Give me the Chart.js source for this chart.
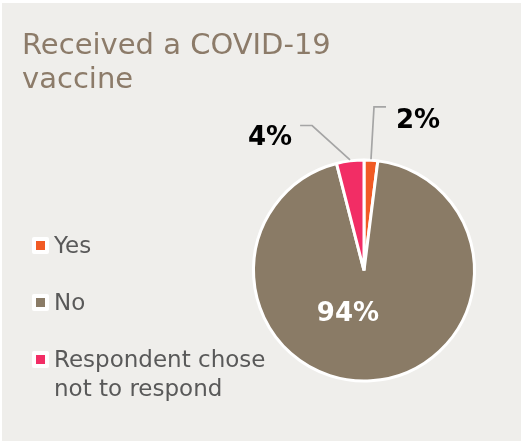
<!DOCTYPE html>
<html>
<head>
<meta charset="utf-8">
<script src="https://cdn.jsdelivr.net/npm/chart.js@4/dist/chart.umd.min.js"></script>
<style>
  html, body { margin: 0; padding: 0; background: #ffffff; }
  #wrap { position: relative; width: 529px; height: 443px; }
</style>
</head>
<body>
<div id="wrap"><canvas id="vaccineChart" width="529" height="443"></canvas></div>
<script>
// survey answers
const categories = ['Yes', 'No', 'Respondent chose not to respond'];
const shares = [2, 94, 4];
const sliceColors = ['#f15a24', '#8a7b66', '#f22d65'];
const titleLines = ['Received a COVID-19', 'vaccine'];

const FONT = "'DejaVu Sans', Verdana, sans-serif";

// where each percentage goes: leader elbow (polar from centre) or inside the slice
const labelSpots = [
    { side: 'out', angle: -86.5, dist: 164, arm: 12, dx: 10, dy: 14 },
    { side: 'in', angle: 110, dist: 47 },
    { side: 'out', angle: -109.7, dist: 154, arm: -12, dx: -8, dy: 13 }
];

const rad = (deg) => deg * Math.PI / 180;

// panel, title and the left-hand legend
const panelPlugin = {
    id: 'panel',
    beforeDraw(chart) {
        const ctx = chart.ctx;
        ctx.save();
        ctx.fillStyle = '#efeeeb';
        ctx.fillRect(2, 3, 519, 438);

        ctx.fillStyle = '#8c7b69';
        ctx.font = '29px ' + FONT;
        ctx.textBaseline = 'alphabetic';
        titleLines.forEach((line, i) => ctx.fillText(line, 22, 54 + i * 34));

        const colors = chart.data.datasets[0].backgroundColor;
        ctx.font = '23px ' + FONT;
        chart.data.labels.forEach((label, i) => {
            const cy = 245 + i * 57;
            // white swatch frame with the slice colour inside
            ctx.fillStyle = '#ffffff';
            ctx.beginPath();
            ctx.roundRect(32, cy - 8, 17, 17, 2);
            ctx.fill();
            ctx.fillStyle = colors[i];
            ctx.fillRect(36, cy - 4, 9, 9);

            // wrap long labels
            const words = label.split(' ');
            const lines = [];
            let cur = '';
            words.forEach(w => {
                const test = cur ? cur + ' ' + w : w;
                if (cur && ctx.measureText(test).width > 225) {
                    lines.push(cur);
                    cur = w;
                } else {
                    cur = test;
                }
            });
            lines.push(cur);
            ctx.fillStyle = '#595959';
            lines.forEach((ln, j) => ctx.fillText(ln, 54, cy + 8 + j * 29));
        });
        ctx.restore();
    }
};

// percentage labels with leader lines
const sliceLabelPlugin = {
    id: 'sliceLabels',
    afterDatasetsDraw(chart) {
        const ctx = chart.ctx;
        const meta = chart.getDatasetMeta(0);
        const values = chart.data.datasets[0].data;
        ctx.save();
        ctx.font = 'bold 26px ' + FONT;
        ctx.textBaseline = 'middle';
        meta.data.forEach((arc, i) => {
            const p = arc.getProps(['x', 'y', 'startAngle', 'endAngle', 'outerRadius'], true);
            const spot = labelSpots[i];
            const text = values[i] + '%';
            if (spot.side === 'in') {
                ctx.fillStyle = '#ffffff';
                ctx.textAlign = 'center';
                ctx.fillText(text, p.x + spot.dist * Math.cos(rad(spot.angle)),
                    p.y + spot.dist * Math.sin(rad(spot.angle)));
                return;
            }
            const mid = (p.startAngle + p.endAngle) / 2;
            const sx = p.x + (p.outerRadius + 1) * Math.cos(mid);
            const sy = p.y + (p.outerRadius + 1) * Math.sin(mid);
            const ex = p.x + spot.dist * Math.cos(rad(spot.angle));
            const ey = p.y + spot.dist * Math.sin(rad(spot.angle));
            ctx.strokeStyle = '#a5a5a5';
            ctx.lineWidth = 1.7;
            ctx.beginPath();
            ctx.moveTo(sx, sy);
            ctx.lineTo(ex, ey);
            ctx.lineTo(ex + spot.arm, ey);
            ctx.stroke();
            ctx.fillStyle = '#000000';
            ctx.textAlign = spot.arm > 0 ? 'left' : 'right';
            ctx.fillText(text, ex + spot.arm + spot.dx, ey + spot.dy);
        });
        ctx.restore();
    }
};

new Chart(document.getElementById('vaccineChart'), {
    type: 'pie',
    data: {
        labels: categories,
        datasets: [{
            data: shares,
            backgroundColor: sliceColors,
            borderColor: '#ffffff',
            borderWidth: 3
        }]
    },
    options: {
        responsive: false,
        animation: false,
        radius: 110.5,
        layout: {
            padding: { left: 252, right: 53, top: 159, bottom: 61 }
        },
        plugins: {
            legend: { display: false },
            tooltip: { enabled: false }
        }
    },
    plugins: [panelPlugin, sliceLabelPlugin]
});
</script>
</body>
</html>
